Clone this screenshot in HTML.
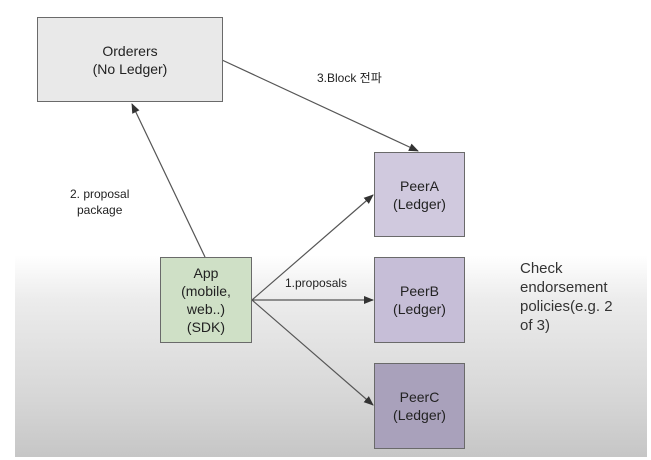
<!DOCTYPE html>
<html><head><meta charset="utf-8"><style>
html,body{margin:0;padding:0;background:#fff;}
body{width:651px;height:460px;position:relative;overflow:hidden;font-family:"Liberation Sans","Noto Sans CJK KR",sans-serif;}
.bg{position:absolute;left:15px;top:0;width:632px;height:457px;background:linear-gradient(to bottom,#fff 0,#fff 255px,#ececec 300px,#d6d6d6 400px,#c6c6c6 457px);}
.box{position:absolute;box-sizing:border-box;border:1.5px solid #6a6a6a;display:flex;align-items:center;justify-content:center;text-align:center;font-size:14px;line-height:18px;color:#222;}
.t{position:absolute;font-size:12px;color:#222;line-height:16px;}
</style></head><body>
<div class="bg"></div>
<svg width="651" height="460" style="position:absolute;left:0;top:0">
<defs><marker id="a" markerWidth="10" markerHeight="8" refX="9" refY="4" orient="auto" markerUnits="userSpaceOnUse"><path d="M0,0 L10,4 L0,8 z" fill="#333"/></marker></defs>
<g stroke="#555" stroke-width="1.2" fill="none" marker-end="url(#a)">
<line x1="205" y1="257" x2="132" y2="104"/>
<line x1="222" y1="60" x2="418" y2="151"/>
<line x1="252" y1="300" x2="373" y2="195"/>
<line x1="252" y1="300" x2="373" y2="300"/>
<line x1="252" y1="300" x2="373" y2="405"/>
</g></svg>
<div class="box" style="left:37px;top:17px;width:186px;height:85px;background:#e9e9e9">Orderers<br>(No Ledger)</div>
<div class="box" style="left:160px;top:257px;width:92px;height:86px;background:#cfe0c6">App<br>(mobile,<br>web..)<br>(SDK)</div>
<div class="box" style="left:374px;top:152px;width:91px;height:85px;background:#d0c9de">PeerA<br>(Ledger)</div>
<div class="box" style="left:374px;top:257px;width:91px;height:86px;background:#c6bed7">PeerB<br>(Ledger)</div>
<div class="box" style="left:374px;top:363px;width:91px;height:86px;background:#a9a1bb">PeerC<br>(Ledger)</div>
<div class="t" style="left:317px;top:70px">3.Block 전파</div>
<div class="t" style="left:70px;top:186px;text-align:center">2. proposal<br>package</div>
<div class="t" style="left:285px;top:275px">1.proposals</div>
<div class="t" style="left:520px;top:259px;font-size:15px;line-height:19px;color:#333">Check<br>endorsement<br>policies(e.g. 2<br>of 3)</div>
</body></html>
